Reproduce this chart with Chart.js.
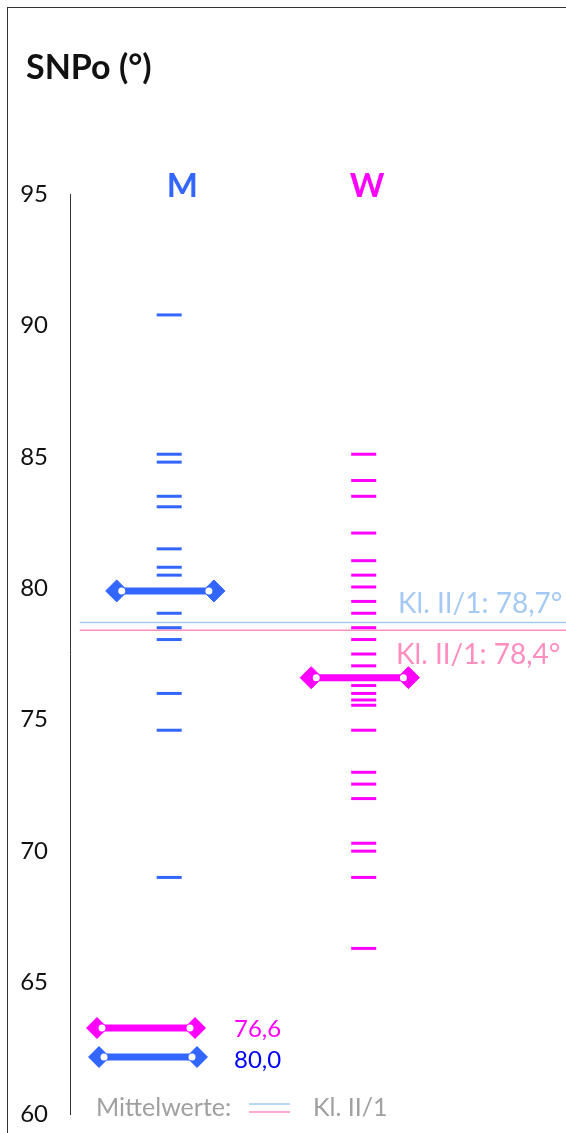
<!DOCTYPE html>
<html>
<head>
<meta charset="utf-8">
<script src="https://cdn.jsdelivr.net/npm/chart.js@4/dist/chart.umd.min.js"></script>
<style>
    html, body { margin: 0; padding: 0; background: #fff; }
    canvas { display: block; }
</style>
</head>
<body>
<canvas id="graficoSnpo" width="566" height="1133"></canvas>
<script>
// Gruppen und Einzelwerte (SNPo in Grad)
const categories = ['M', 'W'];
const groupColors = ['#3366ff', '#ff00ff'];
const valuesM = [90.4, 85.1, 84.8, 83.5, 83.1, 81.5, 80.8, 80.5, 79.05, 78.5, 78.05, 76.0, 74.6, 69.0];
const valuesW = [85.1, 84.1, 83.5, 82.1, 81.05, 80.5, 80.05, 79.5, 79.05, 78.5, 78.05, 77.5, 77.05,
                 76.3, 76.0, 75.75, 75.55, 74.6, 73.0, 72.55, 72.0, 70.3, 70.0, 69.0, 66.3];

// Mittelwerte der Gruppen
const means = [79.9, 76.6];
const meanLabels = ['80,0', '76,6'];
const meanLabelColors = ['#0000ff', '#ff00ff'];

// Klasse II/1 Referenzwerte
const refValues = [78.7, 78.4];
const refLabels = ['Kl. II/1: 78,7°', 'Kl. II/1: 78,4°'];
const refColors = ['#a4c9f5', '#ff8dc0'];

// y-Achse
const yMin = 60;
const yMax = 95;
const yStep = 5;

let chart;

function markDataset(values, pos, color) {
    return {
        type: 'scatter',
        data: values.map(v => ({ x: pos, y: v })),
        pointStyle: 'line',
        pointRadius: 12.5,
        pointHoverRadius: 12.5,
        pointBorderWidth: 3,
        pointBorderColor: color,
        order: 2
    };
}

function meanDataset(i) {
    const c = i + 1 - 0.02;
    return {
        type: 'line',
        showLine: true,
        data: [{ x: c - 0.25, y: means[i] }, { x: c + 0.25, y: means[i] }],
        borderColor: groupColors[i],
        borderWidth: 7,
        pointStyle: 'rectRot',
        pointRadius: 11,
        pointHoverRadius: 11,
        pointBackgroundColor: groupColors[i],
        pointBorderColor: groupColors[i],
        pointBorderWidth: 1,
        order: 1
    };
}

function meanInnerDataset(i) {
    const c = i + 1 - 0.02;
    return {
        type: 'scatter',
        data: [{ x: c - 0.25 + 0.026, y: means[i] }, { x: c + 0.25 - 0.026, y: means[i] }],
        pointStyle: 'circle',
        pointRadius: 3.5,
        pointHoverRadius: 3.5,
        pointBackgroundColor: '#ffffff',
        pointBorderWidth: 0,
        order: 0
    };
}

function refDataset(i) {
    return {
        type: 'line',
        showLine: true,
        data: [{ x: 0.54, y: refValues[i] }, { x: 3.04, y: refValues[i] }],
        borderColor: refColors[i],
        borderWidth: 1.5,
        pointRadius: 0,
        order: 5
    };
}

function drawLegendBar(ctx, x1, x2, y, color) {
    ctx.save();
    ctx.strokeStyle = color;
    ctx.fillStyle = color;
    ctx.lineWidth = 7;
    ctx.beginPath();
    ctx.moveTo(x1, y);
    ctx.lineTo(x2, y);
    ctx.stroke();
    [x1, x2].forEach(x => {
        ctx.beginPath();
        ctx.moveTo(x - 11, y);
        ctx.lineTo(x, y - 11);
        ctx.lineTo(x + 11, y);
        ctx.lineTo(x, y + 11);
        ctx.closePath();
        ctx.fill();
    });
    ctx.fillStyle = '#ffffff';
    [x1 + 5, x2 - 5].forEach(x => {
        ctx.beginPath();
        ctx.arc(x, y, 3.5, 0, Math.PI * 2);
        ctx.fill();
    });
    ctx.restore();
}

const snpoText = {
    id: 'snpoText',
    beforeDraw(chart) {
        const ctx = chart.ctx;
        ctx.save();
        ctx.fillStyle = '#ffffff';
        ctx.fillRect(0, 0, chart.width, chart.height);
        ctx.strokeStyle = '#333333';
        ctx.lineWidth = 1;
        ctx.strokeRect(7.5, 7.5, chart.width + 10, chart.height + 10);
        ctx.restore();
    },
    afterDraw(chart) {
        const { ctx, scales: { x, y } } = chart;
        ctx.save();
        ctx.textBaseline = 'alphabetic';

        // Titel
        ctx.fillStyle = '#111111';
        ctx.font = 'bold 34px Lato';
        ctx.textAlign = 'left';
        ctx.fillText('SNPo (°)', 26, 79);

        // Gruppenbeschriftung
        ctx.font = 'bold 33px Lato';
        ctx.textAlign = 'center';
        const labelPos = [1.067, 2.018];
        categories.forEach((c, i) => {
            ctx.fillStyle = groupColors[i];
            ctx.fillText(c, x.getPixelForValue(labelPos[i]), 197);
        });

        // Referenzlinien beschriften
        ctx.font = '28px Lato';
        ctx.textAlign = 'left';
        ctx.fillStyle = refColors[0];
        ctx.fillText(refLabels[0], 398, y.getPixelForValue(refValues[0]) - 9);
        ctx.fillStyle = refColors[1];
        ctx.fillText(refLabels[1], 396, y.getPixelForValue(refValues[1]) + 34);

        // Legende Mittelwerte
        drawLegendBar(ctx, 97, 195, 1028, groupColors[1]);
        drawLegendBar(ctx, 99, 197, 1057, groupColors[0]);
        ctx.font = '24px Lato';
        ctx.fillStyle = meanLabelColors[1];
        ctx.fillText(meanLabels[1], 234, 1037);
        ctx.fillStyle = meanLabelColors[0];
        ctx.fillText(meanLabels[0], 234, 1068);

        ctx.font = '25px Lato';
        ctx.fillStyle = '#a0a0a0';
        ctx.fillText('Mittelwerte:', 96, 1116);
        ctx.fillText('Kl. II/1', 313, 1116);
        ctx.lineWidth = 1.5;
        ctx.strokeStyle = refColors[0];
        ctx.beginPath(); ctx.moveTo(249, 1104); ctx.lineTo(290, 1104); ctx.stroke();
        ctx.strokeStyle = refColors[1];
        ctx.beginPath(); ctx.moveTo(249, 1112); ctx.lineTo(290, 1112); ctx.stroke();

        ctx.restore();
    }
};

function drawChart() {
    if (chart) chart.destroy();

    const ctx = document.getElementById('graficoSnpo').getContext('2d');

    chart = new Chart(ctx, {
        type: 'scatter',
        data: {
            datasets: [
                refDataset(0),
                refDataset(1),
                markDataset(valuesM, 1, groupColors[0]),
                markDataset(valuesW, 2, groupColors[1]),
                meanDataset(0),
                meanDataset(1),
                meanInnerDataset(0),
                meanInnerDataset(1)
            ]
        },
        options: {
            responsive: false,
            animation: false,
            events: [],
            layout: {
                autoPadding: false,
                padding: { top: 194, bottom: 19, left: 0, right: 0 }
            },
            plugins: {
                legend: { display: false },
                tooltip: { enabled: false },
                title: { display: false }
            },
            scales: {
                x: {
                    type: 'linear',
                    min: 0.49,
                    max: 3.04,
                    display: false
                },
                y: {
                    type: 'linear',
                    min: yMin,
                    max: yMax,
                    afterFit: scale => {
                        scale.width = 70;
                        scale.paddingTop = 0;
                        scale.paddingBottom = 0;
                    },
                    grid: { display: false, drawTicks: false },
                    border: { display: true, color: '#333333', width: 1 },
                    ticks: {
                        stepSize: yStep,
                        padding: 22,
                        color: '#111111',
                        font: { family: 'Lato', size: 24 }
                    }
                }
            }
        },
        plugins: [snpoText]
    });
}

document.addEventListener('DOMContentLoaded', drawChart);
</script>
</body>
</html>
